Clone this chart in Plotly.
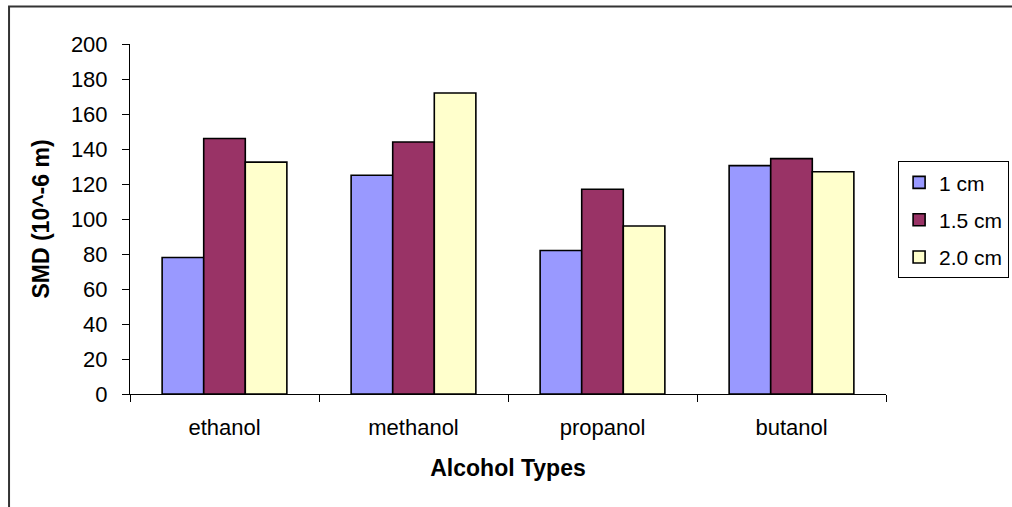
import plotly.graph_objects as go

# Sauter mean diameter by alcohol type and nozzle distance
alcohols = ["ethanol", "methanol", "propanol", "butanol"]
series_names = ["1 cm", "1.5 cm", "2.0 cm"]
smd_1cm = [78, 125, 82, 130.5]
smd_1_5cm = [146, 144, 117, 134.5]
smd_2_0cm = [132.5, 172, 96, 127]
y_ticks = [0, 20, 40, 60, 80, 100, 120, 140, 160, 180, 200]

colors = ["#9999FF", "#993366", "#FFFFCC"]
FONT = "Liberation Sans, Arial, sans-serif"

fig = go.Figure()
for name, vals, col in zip(series_names, [smd_1cm, smd_1_5cm, smd_2_0cm], colors):
    fig.add_trace(go.Bar(
        x=alcohols, y=vals, name=name, legendgroup=name,
        marker=dict(color=col, line=dict(color="black", width=1.6)),
    ))

fig.update_layout(
    width=1012, height=507,
    margin=dict(l=130, r=126, t=44, b=113, autoexpand=False),
    paper_bgcolor="white", plot_bgcolor="white",
    font=dict(family=FONT, size=22, color="black"),
    barmode="group", bargap=0.34, bargroupgap=0,
    showlegend=True,
    legend=dict(
        x=1.016, y=0.665, xanchor="left", yanchor="top",
        bordercolor="black", borderwidth=1, bgcolor="white",
        font=dict(family=FONT, size=21, color="black"),
        tracegroupgap=7,
    ),
    xaxis=dict(
        showline=True, linecolor="black", linewidth=1,
        ticks="outside", tickson="boundaries", ticklen=7, tickcolor="black",
        ticklabelstandoff=14,
        title=dict(text="<b>Alcohol Types</b>", standoff=20,
                   font=dict(family=FONT, size=23)),
        showgrid=False, zeroline=False,
    ),
    yaxis=dict(
        range=[0, 200], tickvals=y_ticks,
        showline=True, linecolor="black", linewidth=1,
        ticks="outside", ticklen=7, tickcolor="black",
        ticklabelstandoff=10,
        title=dict(text="<b>SMD (10^-6 m)</b>", standoff=14,
                   font=dict(family=FONT, size=23)),
        showgrid=False, zeroline=False,
    ),
    shapes=[dict(
        type="rect", xref="paper", yref="paper",
        x0=-0.160, x1=1.5, y0=-0.5, y1=1.107,
        line=dict(color="#333333", width=2), fillcolor="rgba(0,0,0,0)",
        layer="below",
    )],
)

fig.write_html("out.html")
